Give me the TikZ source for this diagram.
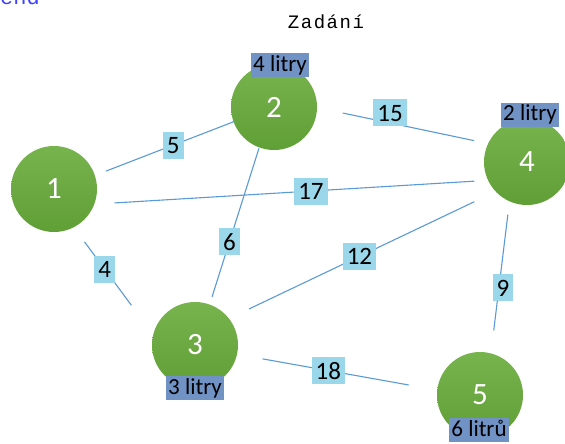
\documentclass[tikz,border=0pt]{standalone}
\usepackage{fontspec}
\setmainfont{Carlito}
\newfontfamily\monofont{Liberation Mono}
\newfontfamily\zfont[LetterSpace=8]{Liberation Mono}
\usetikzlibrary{calc}
\definecolor{edgeblue}{RGB}{91,155,213}
\definecolor{lblue}{RGB}{155,215,235}
\definecolor{volblue}{RGB}{112,146,196}
\definecolor{gtop}{RGB}{120,180,78}
\definecolor{gbot}{RGB}{96,158,54}
\definecolor{endblue}{RGB}{64,64,255}
\begin{document}
\begin{tikzpicture}[x=1pt,y=-1pt,
  vtx/.style={circle, minimum size=86pt, inner sep=0pt, top color=gtop, bottom color=gbot, text=white, font=\fontsize{31}{31}\selectfont},
  wlabel/.style={fill=lblue, text=black, font=\fontsize{25}{25}\selectfont, inner xsep=4pt, inner ysep=5pt, text height=17pt, text depth=0pt},
  vol/.style={fill=volblue, text=black, font=\fontsize{23}{23}\selectfont, inner xsep=2pt, inner ysep=1pt, text height=17pt, text depth=5pt},
  edge/.style={draw=edgeblue, line width=1.1pt}]
\clip (0,0) rectangle (565,444);
\useasboundingbox (0,0) rectangle (565,444);
\fill[white] (0,0) rectangle (565,444);
\node[anchor=base west, inner sep=0pt, text=endblue, font=\monofont\fontsize{22}{22}\selectfont] (endtxt) at (0,5) {end};
\node[font=\zfont\fontsize{19}{19}\selectfont, inner sep=0pt, anchor=base] (title) at (326,29) {Zadání};
\node[vtx] (n1) at (54,189) {1};
\node[vtx] (n2) at (274,107) {2};
\node[vtx] (n3) at (195,345) {3};
\node[vtx] (n4) at (527,162) {4};
\node[vtx] (n5) at (480,395) {5};
\draw[edge] ($(n1)+(19:55pt)$) -- node[wlabel, pos=0.52] (w12) {5} ($(n2)+(200:41pt)$);
\draw[edge] ($(n1)+(-13:62pt)$) -- node[wlabel, pos=0.546] (w14) {17} ($(n4)+(200:56pt)$);
\draw[edge] ($(n1)+(-60:61pt)$) -- node[wlabel, pos=0.43] (w13) {4} ($(n3)+(148:75pt)$);
\draw[edge] ($(n2)+(-5:69pt)$) -- node[wlabel, pos=0.36, yshift=10pt] (w24) {15} ($(n4)+(158:57pt)$);
\draw[edge] ($(n2)+(-110:44pt)$) -- node[wlabel, pos=0.63] (w23) {6} ($(n3)+(70.5:51pt)$);
\draw[edge] ($(n4)+(-143:66pt)$) -- node[wlabel, pos=0.51] (w43) {12} ($(n3)+(33.7:65pt)$);
\draw[edge] ($(n4)+(-110:56pt)$) -- node[wlabel, pos=0.63, xshift=4pt] (w45) {9} ($(n5)+(78:66pt)$);
\draw[edge] ($(n3)+(-11.6:69pt)$) -- node[wlabel, pos=0.45] (w35) {18} ($(n5)+(172:72pt)$);
\node[vol] (v2) at (280,65) {4 litry};
\node[vol] (v4) at (530,115) {2 litry};
\node[vol] (v3) at (195,388) {3 litry};
\node[vol] (v5) at (479,430) {6 litrů};
\end{tikzpicture}
\end{document}
